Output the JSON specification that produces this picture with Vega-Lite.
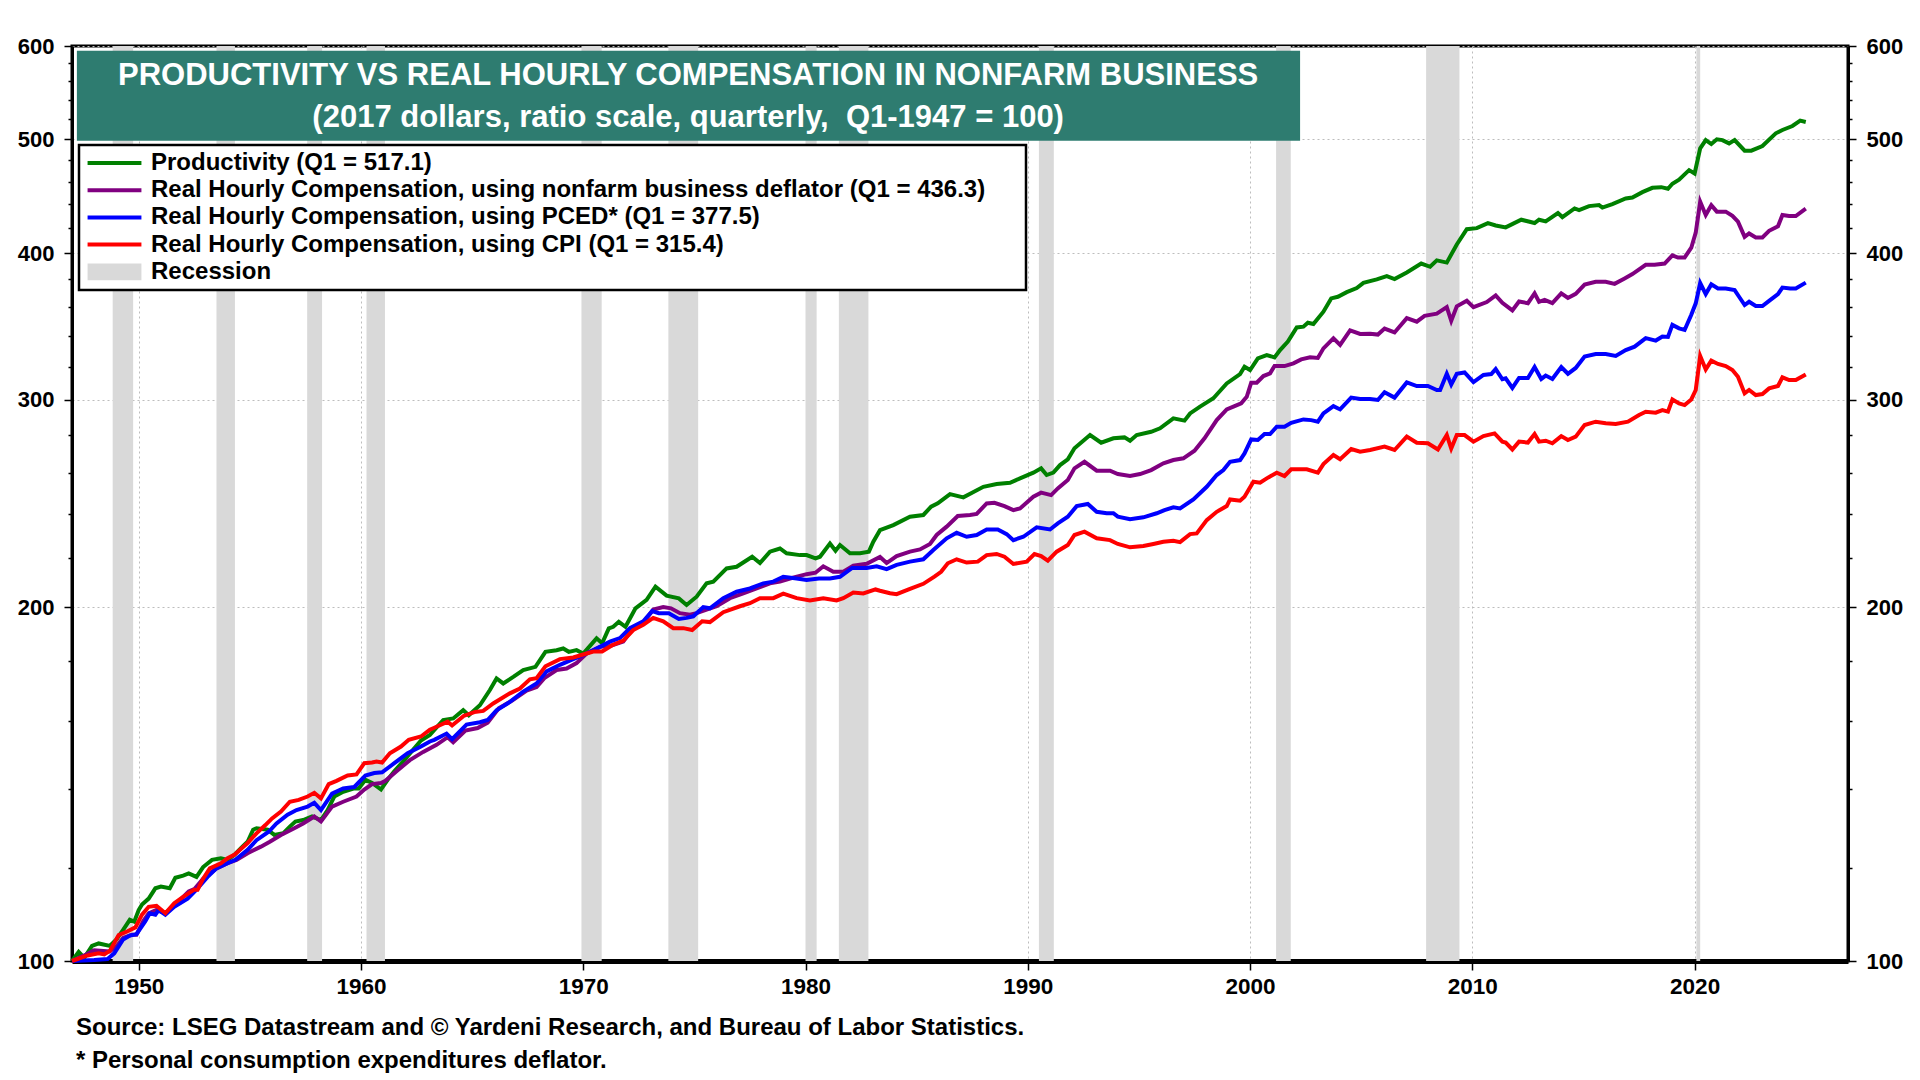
{
  "$schema": "https://vega.github.io/schema/vega-lite/v6.json",
  "description": "Productivity vs real hourly compensation in nonfarm business",
  "width": 1776,
  "height": 915,
  "autosize": {"type": "none"},
  "padding": {"left": 72, "top": 46, "right": 72, "bottom": 119},
  "background": "white",
  "config": {
    "font": "Liberation Sans",
    "view": {"stroke": "black", "strokeWidth": 3}
  },
  "title": {
    "text": ["Source: LSEG Datastream and © Yardeni Research, and Bureau of Labor Statistics.", "* Personal consumption expenditures deflator."],
    "orient": "bottom",
    "anchor": "start",
    "frame": "group",
    "offset": 18,
    "dx": 4,
    "font": "Liberation Sans",
    "fontSize": 24,
    "fontWeight": "bold",
    "color": "black",
    "lineHeight": 33
  },
  "datasets": {
    "recessions": [
      {"start": 1948.83, "end": 1949.75},
      {"start": 1953.5, "end": 1954.33},
      {"start": 1957.58, "end": 1958.25},
      {"start": 1960.25, "end": 1961.08},
      {"start": 1969.92, "end": 1970.83},
      {"start": 1973.83, "end": 1975.17},
      {"start": 1980.0, "end": 1980.5},
      {"start": 1981.5, "end": 1982.83},
      {"start": 1990.5, "end": 1991.17},
      {"start": 2001.17, "end": 2001.83},
      {"start": 2007.92, "end": 2009.42},
      {"start": 2020.08, "end": 2020.25}
    ],
    "productivity": [
      {"t":1947.0,"v":100},{"t":1947.3,"v":101.8},{"t":1947.55,"v":100.6},{"t":1947.9,"v":103},{"t":1948.2,"v":103.5},{"t":1948.7,"v":103},
      {"t":1949.0,"v":104.3},{"t":1949.3,"v":106.3},{"t":1949.6,"v":108.4},{"t":1949.8,"v":108},{"t":1950.0,"v":110.5},{"t":1950.15,"v":111.7},
      {"t":1950.45,"v":113},{"t":1950.75,"v":115.3},{"t":1951.0,"v":115.7},{"t":1951.4,"v":115.3},{"t":1951.65,"v":117.7},{"t":1952.0,"v":118.2},
      {"t":1952.25,"v":118.7},{"t":1952.6,"v":117.9},{"t":1952.9,"v":120.2},{"t":1953.3,"v":121.9},{"t":1953.7,"v":122.3},{"t":1954.0,"v":121.9},
      {"t":1954.3,"v":123.1},{"t":1954.6,"v":124.7},{"t":1954.9,"v":126.3},{"t":1955.15,"v":129.3},{"t":1955.3,"v":129.7},{"t":1955.8,"v":129.3},
      {"t":1956.1,"v":128},{"t":1956.5,"v":128.4},{"t":1956.8,"v":130.1},{"t":1957.05,"v":131.4},{"t":1957.4,"v":131.8},{"t":1957.8,"v":132.7},
      {"t":1958.2,"v":131.8},{"t":1958.5,"v":134.4},{"t":1958.8,"v":138},{"t":1959.2,"v":139.3},{"t":1959.7,"v":140.2},{"t":1959.9,"v":140.2},
      {"t":1960.2,"v":142.6},{"t":1960.5,"v":141.7},{"t":1960.9,"v":139.9},{"t":1961.2,"v":142.6},{"t":1961.5,"v":145},{"t":1961.95,"v":148.2},
      {"t":1962.4,"v":151.7},{"t":1962.7,"v":154},{"t":1963.1,"v":155.7},{"t":1963.7,"v":160.3},{"t":1964.15,"v":160.8},{"t":1964.6,"v":163.4},
      {"t":1964.85,"v":161.8},{"t":1965.35,"v":165},{"t":1965.8,"v":170},{"t":1966.1,"v":173.9},{"t":1966.4,"v":172.2},{"t":1966.87,"v":174.5},
      {"t":1967.3,"v":176.8},{"t":1967.85,"v":177.9},{"t":1968.3,"v":183.2},{"t":1968.8,"v":183.8},{"t":1969.1,"v":184.4},{"t":1969.35,"v":183.2},
      {"t":1969.7,"v":183.8},{"t":1970.0,"v":182.6},{"t":1970.6,"v":188.1},{"t":1970.85,"v":186.3},{"t":1971.15,"v":191.8},{"t":1971.35,"v":192.4},
      {"t":1971.6,"v":194.3},{"t":1971.9,"v":192.4},{"t":1972.35,"v":199.5},{"t":1972.85,"v":202.8},{"t":1973.25,"v":208.1},{"t":1973.75,"v":204.5},
      {"t":1974.3,"v":203.4},{"t":1974.65,"v":200.8},{"t":1975.1,"v":204.1},{"t":1975.55,"v":209.5},{"t":1975.85,"v":210.2},{"t":1976.45,"v":215.7},
      {"t":1976.9,"v":216.4},{"t":1977.6,"v":220.7},{"t":1977.95,"v":218},{"t":1978.4,"v":222.9},{"t":1978.85,"v":224.3},{"t":1979.15,"v":222.2},
      {"t":1979.75,"v":221.4},{"t":1980.05,"v":221.4},{"t":1980.45,"v":220},{"t":1980.65,"v":220.7},{"t":1981.1,"v":226.5},{"t":1981.35,"v":223.3},
      {"t":1981.55,"v":225.8},{"t":1982.0,"v":222.2},{"t":1982.45,"v":222.2},{"t":1982.85,"v":222.9},{"t":1983.05,"v":227.3},{"t":1983.35,"v":232.5},
      {"t":1983.95,"v":234.8},{"t":1984.7,"v":238.7},{"t":1985.3,"v":239.5},{"t":1985.65,"v":243.4},{"t":1985.95,"v":245},{"t":1986.5,"v":249.5},
      {"t":1987.1,"v":247.9},{"t":1987.45,"v":249.9},{"t":1988.0,"v":253.1},{"t":1988.6,"v":254.5},{"t":1989.2,"v":255.1},{"t":1989.65,"v":257.3},
      {"t":1990.25,"v":260.2},{"t":1990.6,"v":262.4},{"t":1990.85,"v":259},{"t":1991.15,"v":260.2},{"t":1991.45,"v":264.1},{"t":1991.8,"v":267.1},
      {"t":1992.1,"v":272.9},{"t":1992.8,"v":280.1},{"t":1993.3,"v":275.9},{"t":1993.85,"v":278.3},{"t":1994.35,"v":278.8},{"t":1994.6,"v":277},
      {"t":1994.9,"v":280.1},{"t":1995.55,"v":281.9},{"t":1995.95,"v":283.8},{"t":1996.55,"v":289.4},{"t":1997.05,"v":288.1},{"t":1997.3,"v":292.2},
      {"t":1997.75,"v":296.1},{"t":1998.35,"v":301},{"t":1998.95,"v":309.9},{"t":1999.55,"v":315.6},{"t":1999.75,"v":320.2},{"t":2000.0,"v":318.1},
      {"t":2000.35,"v":325.5},{"t":2000.75,"v":327.6},{"t":2001.1,"v":326.1},{"t":2001.35,"v":330.8},{"t":2001.7,"v":336.3},{"t":2002.1,"v":345.8},
      {"t":2002.4,"v":346.3},{"t":2002.6,"v":349},{"t":2002.85,"v":348.1},{"t":2003.3,"v":356.6},{"t":2003.65,"v":366},{"t":2003.95,"v":367.2},
      {"t":2004.35,"v":370.5},{"t":2004.8,"v":373.5},{"t":2005.1,"v":377.3},{"t":2005.7,"v":379.9},{"t":2006.15,"v":382.3},{"t":2006.5,"v":380.1},
      {"t":2007.05,"v":385.1},{"t":2007.7,"v":391.9},{"t":2008.1,"v":389.4},{"t":2008.4,"v":394.3},{"t":2008.85,"v":392.6},{"t":2009.3,"v":406.8},
      {"t":2009.75,"v":419.1},{"t":2010.2,"v":420},{"t":2010.7,"v":424.2},{"t":2011.05,"v":422.2},{"t":2011.5,"v":420.6},{"t":2012.2,"v":427},
      {"t":2012.8,"v":424.2},{"t":2013.0,"v":427},{"t":2013.3,"v":425.6},{"t":2013.85,"v":432.6},{"t":2014.05,"v":429.2},{"t":2014.6,"v":436.5},
      {"t":2014.8,"v":435.1},{"t":2015.25,"v":438.5},{"t":2015.7,"v":439.4},{"t":2015.85,"v":437.3},{"t":2016.3,"v":440.3},{"t":2016.9,"v":445.1},
      {"t":2017.2,"v":446},{"t":2017.65,"v":450.7},{"t":2018.1,"v":454.5},{"t":2018.5,"v":455.1},{"t":2018.8,"v":453.7},{"t":2019.0,"v":458.2},
      {"t":2019.3,"v":461.8},{"t":2019.75,"v":470.5},{"t":2020.0,"v":467.4},{"t":2020.25,"v":491},{"t":2020.5,"v":499.1},{"t":2020.75,"v":495.2},
      {"t":2021.0,"v":499.8},{"t":2021.25,"v":499},{"t":2021.55,"v":495.8},{"t":2021.8,"v":499.1},{"t":2022.25,"v":488.8},{"t":2022.55,"v":488.8},
      {"t":2023.05,"v":493.3},{"t":2023.65,"v":505.7},{"t":2023.95,"v":509},{"t":2024.4,"v":513},{"t":2024.75,"v":518.4},{"t":2025.0,"v":517.1}
    ],
    "nfb": [
      {"t":1947.0,"v":100},{"t":1947.5,"v":101},{"t":1948.0,"v":102.1},{"t":1948.7,"v":101.9},{"t":1949.0,"v":102.9},{"t":1949.3,"v":104.6},
      {"t":1949.7,"v":105.3},{"t":1949.9,"v":105.3},{"t":1950.2,"v":108.1},{"t":1950.45,"v":109.8},{"t":1950.8,"v":110.5},{"t":1951.2,"v":109.8},
      {"t":1951.7,"v":111.9},{"t":1952.25,"v":114.6},{"t":1952.5,"v":115.1},{"t":1952.9,"v":117.5},{"t":1953.5,"v":119.9},{"t":1954.0,"v":121.1},
      {"t":1954.4,"v":121.9},{"t":1954.9,"v":123.5},{"t":1955.5,"v":125.1},{"t":1955.9,"v":126.3},{"t":1956.4,"v":128},{"t":1957.0,"v":129.7},
      {"t":1957.4,"v":130.9},{"t":1957.9,"v":132.7},{"t":1958.2,"v":131.4},{"t":1958.7,"v":135.3},{"t":1959.2,"v":136.6},{"t":1959.8,"v":138},
      {"t":1960.15,"v":139.9},{"t":1960.5,"v":141.4},{"t":1960.9,"v":141.7},{"t":1961.1,"v":142.3},{"t":1961.6,"v":145},{"t":1962.2,"v":148.2},
      {"t":1962.8,"v":150.6},{"t":1963.4,"v":152.7},{"t":1963.9,"v":155},{"t":1964.15,"v":153.5},{"t":1964.7,"v":157},{"t":1965.25,"v":157.8},
      {"t":1965.7,"v":159.5},{"t":1966.2,"v":164},{"t":1966.8,"v":166.5},{"t":1967.45,"v":169.8},{"t":1967.9,"v":171},{"t":1968.25,"v":174},
      {"t":1968.8,"v":176.8},{"t":1969.25,"v":177.3},{"t":1969.7,"v":179.2},{"t":1970.15,"v":182.6},{"t":1970.75,"v":185},{"t":1971.2,"v":185.3},
      {"t":1971.8,"v":186.9},{"t":1972.25,"v":191.9},{"t":1972.7,"v":193.9},{"t":1973.15,"v":199},{"t":1973.6,"v":200},{"t":1973.95,"v":199.5},
      {"t":1974.35,"v":197.6},{"t":1974.8,"v":197},{"t":1975.1,"v":197.6},{"t":1975.55,"v":199},{"t":1976.0,"v":200.3},{"t":1976.6,"v":203.5},
      {"t":1977.2,"v":205.4},{"t":1977.8,"v":207.4},{"t":1978.4,"v":209.5},{"t":1978.85,"v":210.2},{"t":1979.3,"v":211.5},{"t":1980.05,"v":213.3},
      {"t":1980.45,"v":213.9},{"t":1980.8,"v":216.6},{"t":1981.25,"v":214.3},{"t":1981.7,"v":214.3},{"t":1982.15,"v":216.9},{"t":1982.75,"v":217.7},
      {"t":1983.35,"v":220.6},{"t":1983.65,"v":218},{"t":1984.1,"v":221},{"t":1984.7,"v":222.9},{"t":1985.15,"v":223.9},{"t":1985.6,"v":226.3},
      {"t":1985.9,"v":230.3},{"t":1986.35,"v":234.1},{"t":1986.85,"v":239},{"t":1987.4,"v":239.5},{"t":1987.7,"v":240},{"t":1988.15,"v":245},
      {"t":1988.5,"v":245.3},{"t":1988.95,"v":243.7},{"t":1989.35,"v":241.8},{"t":1989.65,"v":242.6},{"t":1990.25,"v":248.2},{"t":1990.6,"v":250.2},
      {"t":1991.05,"v":249},{"t":1991.35,"v":252.3},{"t":1991.8,"v":256.5},{"t":1992.1,"v":262.4},{"t":1992.55,"v":265.8},{"t":1993.1,"v":261.2},
      {"t":1993.7,"v":261.2},{"t":1994.05,"v":259.5},{"t":1994.6,"v":258.5},{"t":1995.05,"v":259.5},{"t":1995.55,"v":261.5},{"t":1996.1,"v":265},
      {"t":1996.55,"v":266.7},{"t":1997.0,"v":267.6},{"t":1997.5,"v":271.6},{"t":1997.95,"v":278.3},{"t":1998.5,"v":288.4},{"t":1998.95,"v":294.5},
      {"t":1999.25,"v":296.1},{"t":1999.6,"v":298},{"t":1999.85,"v":301.9},{"t":2000.05,"v":310.3},{"t":2000.3,"v":310.3},{"t":2000.6,"v":314.4},
      {"t":2000.9,"v":316.1},{"t":2001.1,"v":320.6},{"t":2001.55,"v":320.6},{"t":2001.95,"v":322.3},{"t":2002.3,"v":324.8},{"t":2002.7,"v":326.1},
      {"t":2003.05,"v":325.7},{"t":2003.3,"v":331.9},{"t":2003.75,"v":338.5},{"t":2004.05,"v":334.1},{"t":2004.5,"v":343.8},{"t":2004.95,"v":341.4},
      {"t":2005.4,"v":341.6},{"t":2005.75,"v":341},{"t":2006.05,"v":345},{"t":2006.5,"v":342.4},{"t":2007.05,"v":352.1},{"t":2007.5,"v":349.7},
      {"t":2007.85,"v":353.7},{"t":2008.4,"v":355.2},{"t":2008.85,"v":359.8},{"t":2009.05,"v":350.3},{"t":2009.3,"v":360.4},{"t":2009.75,"v":364.3},
      {"t":2010.05,"v":359.8},{"t":2010.65,"v":363.4},{"t":2011.05,"v":368.2},{"t":2011.35,"v":362.9},{"t":2011.8,"v":357.5},{"t":2012.1,"v":363.8},
      {"t":2012.5,"v":362.6},{"t":2012.8,"v":369.6},{"t":2013.0,"v":363.6},{"t":2013.25,"v":365},{"t":2013.6,"v":362.6},{"t":2014.0,"v":369.6},
      {"t":2014.3,"v":366.3},{"t":2014.65,"v":369.3},{"t":2015.05,"v":376.1},{"t":2015.55,"v":378.1},{"t":2016.0,"v":378.1},{"t":2016.4,"v":376.6},
      {"t":2016.85,"v":380.6},{"t":2017.2,"v":383.9},{"t":2017.8,"v":390.9},{"t":2018.2,"v":390.9},{"t":2018.65,"v":391.9},{"t":2019.0,"v":398.2},
      {"t":2019.25,"v":396.5},{"t":2019.55,"v":396.5},{"t":2019.85,"v":404.2},{"t":2020.05,"v":416.3},{"t":2020.25,"v":442.3},{"t":2020.5,"v":430.9},
      {"t":2020.75,"v":439.3},{"t":2021.0,"v":433.8},{"t":2021.4,"v":433.8},{"t":2021.7,"v":430.2},{"t":2021.95,"v":425.4},{"t":2022.25,"v":412.9},
      {"t":2022.45,"v":415.6},{"t":2022.75,"v":412.4},{"t":2023.05,"v":412.4},{"t":2023.35,"v":417.8},{"t":2023.75,"v":421.6},{"t":2023.95,"v":430.9},
      {"t":2024.25,"v":430.1},{"t":2024.55,"v":430.1},{"t":2025.0,"v":436.3}
    ],
    "pced": [
      {"t":1947.0,"v":100},{"t":1948.0,"v":100.2},{"t":1948.6,"v":100.4},{"t":1948.9,"v":101.5},{"t":1949.3,"v":104.3},{"t":1949.6,"v":105.1},
      {"t":1949.9,"v":105.4},{"t":1950.3,"v":108.1},{"t":1950.5,"v":109.8},{"t":1950.75,"v":109.5},{"t":1950.9,"v":110.5},{"t":1951.2,"v":109.5},
      {"t":1951.6,"v":111.2},{"t":1952.2,"v":113},{"t":1952.6,"v":115},{"t":1953.1,"v":117.9},{"t":1953.5,"v":119.9},{"t":1954.0,"v":121.1},
      {"t":1954.35,"v":121.9},{"t":1954.9,"v":124.3},{"t":1955.3,"v":126.7},{"t":1955.85,"v":128.8},{"t":1956.2,"v":130.9},{"t":1956.7,"v":133.2},
      {"t":1957.1,"v":134.4},{"t":1957.6,"v":135.3},{"t":1957.9,"v":136.3},{"t":1958.2,"v":134.4},{"t":1958.7,"v":138.8},{"t":1959.2,"v":140.2},
      {"t":1959.7,"v":140.6},{"t":1960.2,"v":143.8},{"t":1960.6,"v":144.5},{"t":1960.95,"v":144.7},{"t":1961.5,"v":147.3},{"t":1962.1,"v":150.2},
      {"t":1962.7,"v":152.2},{"t":1963.1,"v":153.7},{"t":1963.3,"v":154.2},{"t":1963.85,"v":156.1},{"t":1964.1,"v":154.4},{"t":1964.75,"v":158.9},
      {"t":1965.35,"v":159.6},{"t":1965.7,"v":160.3},{"t":1966.1,"v":163.4},{"t":1966.7,"v":166.1},{"t":1967.3,"v":169.5},{"t":1967.9,"v":172.2},
      {"t":1968.35,"v":176.3},{"t":1968.95,"v":178.6},{"t":1969.55,"v":180.6},{"t":1970.15,"v":182.6},{"t":1970.75,"v":185},{"t":1971.2,"v":186.9},
      {"t":1971.65,"v":188.2},{"t":1972.1,"v":191.9},{"t":1972.7,"v":194.5},{"t":1973.1,"v":198.4},{"t":1973.4,"v":197.6},{"t":1973.85,"v":197.6},
      {"t":1974.3,"v":195.4},{"t":1974.65,"v":195.8},{"t":1974.95,"v":196.4},{"t":1975.4,"v":200},{"t":1975.7,"v":199.5},{"t":1976.3,"v":203.5},
      {"t":1976.9,"v":206.1},{"t":1977.5,"v":207.4},{"t":1978.1,"v":209.5},{"t":1978.55,"v":210.2},{"t":1979.0,"v":212.2},{"t":1979.6,"v":211.5},
      {"t":1980.05,"v":210.9},{"t":1980.6,"v":211.5},{"t":1981.1,"v":211.5},{"t":1981.55,"v":212.2},{"t":1982.1,"v":215.9},{"t":1982.75,"v":215.9},
      {"t":1983.2,"v":216.6},{"t":1983.65,"v":215.4},{"t":1984.1,"v":217.2},{"t":1984.7,"v":218.6},{"t":1985.3,"v":219.6},{"t":1985.75,"v":223.6},
      {"t":1986.35,"v":228.8},{"t":1986.8,"v":231.3},{"t":1987.25,"v":229.5},{"t":1987.7,"v":230.3},{"t":1988.15,"v":232.8},{"t":1988.65,"v":232.8},
      {"t":1989.05,"v":230.7},{"t":1989.35,"v":228},{"t":1989.8,"v":229.5},{"t":1990.4,"v":233.8},{"t":1991.0,"v":232.8},{"t":1991.35,"v":235.6},
      {"t":1991.8,"v":238.7},{"t":1992.2,"v":243.7},{"t":1992.7,"v":244.7},{"t":1993.1,"v":241},{"t":1993.55,"v":240.3},{"t":1993.85,"v":240.3},
      {"t":1994.05,"v":238.7},{"t":1994.6,"v":237.5},{"t":1995.2,"v":238.4},{"t":1995.8,"v":240.3},{"t":1996.15,"v":241.8},{"t":1996.55,"v":243.1},
      {"t":1996.85,"v":242.6},{"t":1997.45,"v":246.9},{"t":1998.05,"v":253.1},{"t":1998.5,"v":259},{"t":1998.8,"v":261.5},{"t":1999.1,"v":265.8},
      {"t":1999.55,"v":266.7},{"t":1999.75,"v":270.2},{"t":2000.05,"v":277.7},{"t":2000.35,"v":277.4},{"t":2000.65,"v":280.6},{"t":2000.9,"v":280.6},
      {"t":2001.2,"v":284.7},{"t":2001.55,"v":284.7},{"t":2001.85,"v":286.9},{"t":2002.4,"v":288.8},{"t":2002.75,"v":288.4},{"t":2003.05,"v":287.5},
      {"t":2003.3,"v":292.2},{"t":2003.75,"v":296.4},{"t":2004.05,"v":294.5},{"t":2004.55,"v":301.4},{"t":2004.95,"v":300.6},{"t":2005.4,"v":300.6},
      {"t":2005.75,"v":300},{"t":2006.05,"v":304.6},{"t":2006.5,"v":301.4},{"t":2007.05,"v":310.5},{"t":2007.5,"v":308.3},{"t":2008.0,"v":308.3},
      {"t":2008.4,"v":305.9},{"t":2008.55,"v":305.9},{"t":2008.85,"v":315.8},{"t":2009.05,"v":309.2},{"t":2009.3,"v":315.8},{"t":2009.65,"v":316.6},
      {"t":2010.05,"v":310.7},{"t":2010.5,"v":315.1},{"t":2010.85,"v":315.6},{"t":2011.05,"v":318.7},{"t":2011.35,"v":312.4},{"t":2011.5,"v":313},
      {"t":2011.8,"v":307.2},{"t":2012.1,"v":313.2},{"t":2012.5,"v":313.2},{"t":2012.8,"v":320},{"t":2013.1,"v":312.6},{"t":2013.3,"v":314.7},
      {"t":2013.6,"v":312.6},{"t":2014.0,"v":320},{"t":2014.3,"v":315.8},{"t":2014.65,"v":319.4},{"t":2015.05,"v":326.6},{"t":2015.55,"v":328.2},
      {"t":2016.0,"v":328.2},{"t":2016.45,"v":327},{"t":2016.9,"v":330.8},{"t":2017.3,"v":333},{"t":2017.8,"v":338.6},{"t":2018.25,"v":337},
      {"t":2018.55,"v":339.7},{"t":2018.8,"v":339.4},{"t":2019.0,"v":347.5},{"t":2019.3,"v":345.2},{"t":2019.55,"v":344.1},{"t":2019.85,"v":354.5},
      {"t":2020.05,"v":362.5},{"t":2020.25,"v":377.2},{"t":2020.5,"v":369.1},{"t":2020.75,"v":376.2},{"t":2021.05,"v":373.2},{"t":2021.4,"v":373.2},
      {"t":2021.8,"v":372},{"t":2022.0,"v":367.2},{"t":2022.25,"v":361.3},{"t":2022.45,"v":363.6},{"t":2022.75,"v":360.6},{"t":2023.05,"v":360.6},
      {"t":2023.35,"v":364.3},{"t":2023.75,"v":369.1},{"t":2023.95,"v":373.9},{"t":2024.3,"v":373.2},{"t":2024.55,"v":373.2},{"t":2025.0,"v":377.5}
    ],
    "cpi": [
      {"t":1947.0,"v":100},{"t":1947.7,"v":101.1},{"t":1948.2,"v":101.5},{"t":1948.45,"v":101.3},{"t":1948.7,"v":102},{"t":1949.1,"v":105.2},
      {"t":1949.5,"v":106},{"t":1949.85,"v":106.8},{"t":1950.15,"v":109.5},{"t":1950.45,"v":111.2},{"t":1950.8,"v":111.4},{"t":1951.0,"v":110.6},
      {"t":1951.2,"v":109.8},{"t":1951.6,"v":112},{"t":1952.0,"v":113.4},{"t":1952.5,"v":115},{"t":1952.65,"v":115},{"t":1952.9,"v":117.5},
      {"t":1953.2,"v":119.9},{"t":1953.7,"v":121.1},{"t":1954.0,"v":122.3},{"t":1954.3,"v":123.1},{"t":1954.9,"v":126},{"t":1955.3,"v":128.4},
      {"t":1955.7,"v":130.5},{"t":1956.0,"v":132.2},{"t":1956.4,"v":134},{"t":1956.8,"v":136.6},{"t":1957.2,"v":137.1},{"t":1957.6,"v":138},
      {"t":1957.9,"v":139},{"t":1958.2,"v":137.5},{"t":1958.55,"v":141.4},{"t":1958.9,"v":142.3},{"t":1959.4,"v":143.8},{"t":1959.8,"v":144.1},
      {"t":1960.15,"v":147.3},{"t":1960.5,"v":147.5},{"t":1960.7,"v":147.8},{"t":1960.95,"v":147.5},{"t":1961.3,"v":150.2},{"t":1961.8,"v":152.2},
      {"t":1962.15,"v":154.2},{"t":1962.7,"v":155.2},{"t":1963.1,"v":157.3},{"t":1963.3,"v":157.9},{"t":1963.9,"v":159.8},{"t":1964.1,"v":158.6},
      {"t":1964.62,"v":161.6},{"t":1965.1,"v":162.8},{"t":1965.5,"v":163.2},{"t":1965.95,"v":165.6},{"t":1966.7,"v":168.9},{"t":1967.15,"v":170.5},
      {"t":1967.6,"v":173.6},{"t":1967.9,"v":174},{"t":1968.3,"v":178.1},{"t":1968.95,"v":180.6},{"t":1969.55,"v":181.2},{"t":1970.15,"v":182.6},
      {"t":1970.45,"v":183.3},{"t":1970.85,"v":183.3},{"t":1971.3,"v":185.6},{"t":1971.8,"v":187.3},{"t":1972.25,"v":191.2},{"t":1972.7,"v":193.2},
      {"t":1973.15,"v":195.8},{"t":1973.6,"v":194.5},{"t":1974.05,"v":191.9},{"t":1974.5,"v":191.9},{"t":1974.9,"v":191.2},{"t":1975.35,"v":194.5},
      {"t":1975.7,"v":194.2},{"t":1976.3,"v":198},{"t":1977.05,"v":200.3},{"t":1977.5,"v":201.5},{"t":1977.95,"v":203.5},{"t":1978.55,"v":203.5},
      {"t":1979.0,"v":205.3},{"t":1979.6,"v":203.5},{"t":1980.2,"v":202.6},{"t":1980.8,"v":203.5},{"t":1981.4,"v":202.6},{"t":1981.7,"v":203.5},
      {"t":1982.15,"v":205.8},{"t":1982.6,"v":205.4},{"t":1983.15,"v":207},{"t":1983.35,"v":206.5},{"t":1983.8,"v":205.5},{"t":1984.1,"v":205.1},
      {"t":1984.7,"v":207.2},{"t":1985.3,"v":209.3},{"t":1985.8,"v":212.3},{"t":1986.1,"v":214.3},{"t":1986.4,"v":217.9},{"t":1986.8,"v":219.6},
      {"t":1987.25,"v":218.2},{"t":1987.75,"v":218.6},{"t":1988.15,"v":221.4},{"t":1988.6,"v":221.9},{"t":1988.95,"v":220.7},{"t":1989.35,"v":217.6},
      {"t":1989.95,"v":218.6},{"t":1990.3,"v":221.9},{"t":1990.6,"v":221},{"t":1990.9,"v":219},{"t":1991.3,"v":222.9},{"t":1991.8,"v":225.8},
      {"t":1992.1,"v":230.3},{"t":1992.55,"v":231.8},{"t":1993.1,"v":228.8},{"t":1993.7,"v":228},{"t":1994.05,"v":226.3},{"t":1994.6,"v":224.8},
      {"t":1995.2,"v":225.4},{"t":1995.65,"v":226.3},{"t":1996.1,"v":227.3},{"t":1996.55,"v":227.7},{"t":1996.85,"v":227.1},{"t":1997.3,"v":230.7},
      {"t":1997.6,"v":231},{"t":1998.05,"v":237.1},{"t":1998.5,"v":241},{"t":1998.95,"v":243.7},{"t":1999.1,"v":246.9},{"t":1999.55,"v":246.3},
      {"t":1999.75,"v":248.2},{"t":2000.15,"v":255.6},{"t":2000.45,"v":255.1},{"t":2000.75,"v":257.3},{"t":2001.2,"v":260.2},{"t":2001.55,"v":258.5},
      {"t":2001.85,"v":261.9},{"t":2002.55,"v":261.9},{"t":2003.05,"v":260.2},{"t":2003.3,"v":264.6},{"t":2003.75,"v":269.3},{"t":2004.05,"v":267.1},
      {"t":2004.55,"v":272.5},{"t":2004.95,"v":271.1},{"t":2005.4,"v":272},{"t":2006.05,"v":273.8},{"t":2006.5,"v":272},{"t":2007.05,"v":279.2},
      {"t":2007.5,"v":275.9},{"t":2008.0,"v":275.6},{"t":2008.45,"v":272.3},{"t":2008.85,"v":280.1},{"t":2009.05,"v":272.8},{"t":2009.3,"v":280.1},
      {"t":2009.65,"v":280.1},{"t":2010.05,"v":276.5},{"t":2010.5,"v":279.5},{"t":2011.0,"v":281},{"t":2011.35,"v":276.5},{"t":2011.5,"v":276},
      {"t":2011.8,"v":272.3},{"t":2012.1,"v":276.5},{"t":2012.5,"v":276},{"t":2012.8,"v":280.6},{"t":2013.0,"v":276.5},{"t":2013.3,"v":277},
      {"t":2013.6,"v":275.6},{"t":2014.0,"v":279.5},{"t":2014.3,"v":277.4},{"t":2014.65,"v":279.2},{"t":2015.05,"v":285.6},{"t":2015.55,"v":287.5},
      {"t":2016.0,"v":286.6},{"t":2016.45,"v":286.2},{"t":2017.0,"v":287.5},{"t":2017.5,"v":291.3},{"t":2017.8,"v":293.2},{"t":2018.25,"v":292.6},
      {"t":2018.55,"v":294.1},{"t":2018.8,"v":293.2},{"t":2019.0,"v":300.3},{"t":2019.3,"v":298},{"t":2019.55,"v":297},{"t":2019.85,"v":300.3},
      {"t":2020.05,"v":305.9},{"t":2020.25,"v":327},{"t":2020.5,"v":318.5},{"t":2020.75,"v":324},{"t":2021.05,"v":321.9},{"t":2021.4,"v":320.6},
      {"t":2021.7,"v":318.1},{"t":2021.95,"v":314},{"t":2022.25,"v":303.9},{"t":2022.45,"v":305.9},{"t":2022.75,"v":302.9},{"t":2023.05,"v":303.5},
      {"t":2023.35,"v":306.9},{"t":2023.75,"v":308.3},{"t":2023.95,"v":313.6},{"t":2024.25,"v":311.9},{"t":2024.55,"v":311.9},{"t":2025.0,"v":315.4}
    ]
  },
  "layer": [
    {
      "data": {"name": "recessions"},
      "mark": {"type": "rect", "color": "#d9d9d9"},
      "encoding": {
        "x": {
          "field": "start",
          "type": "quantitative",
          "scale": {"domain": [1947, 2026.9], "nice": false, "zero": false},
          "axis": {
            "title": null,
            "values": [1950, 1960, 1970, 1980, 1990, 2000, 2010, 2020],
            "format": "d",
            "labelFont": "Liberation Sans",
            "labelFontSize": 22.5,
            "labelFontWeight": "bold",
            "labelColor": "black",
            "labelPadding": 5,
            "labelFlush": false,
            "tickSize": 9,
            "tickColor": "black",
            "tickWidth": 1.5,
            "domainColor": "black",
            "domainWidth": 5,
            "grid": true,
            "gridColor": "#bdbdbd",
            "gridDash": [2, 3],
            "gridWidth": 1
          }
        },
        "x2": {"field": "end"},
        "color": {"datum": "Recession"}
      }
    },
    {
      "data": {"name": "productivity"},
      "mark": {"type": "line", "strokeWidth": 4},
      "encoding": {
        "x": {"field": "t", "type": "quantitative"},
        "y": {
          "field": "v",
          "type": "quantitative",
          "scale": {"type": "log", "domain": [100, 600], "nice": false, "zero": false},
          "axis": {
            "orient": "left",
            "title": null,
            "values": [100, 120, 140, 160, 180, 200, 220, 240, 260, 280, 300, 320, 340, 360, 380, 400, 420, 440, 460, 480, 500, 520, 540, 560, 580, 600],
            "format": "d",
            "labelExpr": "datum.value % 100 === 0 ? datum.label : ''",
            "labelOverlap": false,
            "labelBound": false,
            "labelFont": "Liberation Sans",
            "labelFontSize": 22,
            "labelFontWeight": "bold",
            "labelColor": "black",
            "labelPadding": 10,
            "tickSize": {"condition": {"test": "datum.value % 100 === 0", "value": 8}, "value": 4},
            "tickColor": "black",
            "tickWidth": 1.5,
            "domainColor": "black",
            "domainWidth": 3,
            "grid": true,
            "gridColor": "#bdbdbd",
            "gridDash": [2, 3],
            "gridWidth": 1,
            "gridOpacity": {"condition": {"test": "datum.value % 100 === 0", "value": 1}, "value": 0}
          }
        },
        "color": {
          "datum": "Productivity (Q1 = 517.1)",
          "scale": {
            "domain": ["Productivity (Q1 = 517.1)", "Real Hourly Compensation, using nonfarm business deflator (Q1 = 436.3)", "Real Hourly Compensation, using PCED* (Q1 = 377.5)", "Real Hourly Compensation, using CPI (Q1 = 315.4)", "Recession"],
            "range": ["#008000", "#800080", "#0000ff", "#ff0000", "#d9d9d9"]
          },
          "legend": {
            "title": "\u00a0",
            "titleOrient": "right",
            "titlePadding": 35,
            "titleFontSize": 6,
            "orient": "none",
            "legendX": 7,
            "legendY": 99,
            "direction": "vertical",
            "padding": 6,
            "labelFont": "Liberation Sans",
            "labelFontSize": 24,
            "labelFontWeight": "bold",
            "labelColor": "black",
            "labelLimit": 1200,
            "labelOffset": 9,
            "rowPadding": 3.2,
            "symbolType": "stroke",
            "symbolSize": 2900,
            "symbolStrokeWidth": 4,
            "zindex": 3,
            "encode": {
              "legend": {"update": {"fill": {"value": "white"}, "stroke": {"value": "black"}, "strokeWidth": {"value": 2.5}}},
              "symbols": {"update": {
                "x": {"value": 29.5},
                "size": {"value": 2900},
                "shape": {"signal": "datum.label === 'Recession' ? 'M-1,-0.31H1V0.31H-1Z' : 'stroke'"},
                "fill": {"signal": "datum.label === 'Recession' ? '#d9d9d9' : 'transparent'"},
                "stroke": {"signal": "datum.label === 'Recession' ? '#d9d9d9' : scale('color', datum.value)"},
                "strokeWidth": {"signal": "datum.label === 'Recession' ? 0 : 4"},
                "opacity": {"value": 1}
              }},
              "labels": {"update": {"x": {"value": 66}}}
            }
          }
        }
      }
    },
    {
      "data": {"name": "nfb"},
      "mark": {"type": "line", "strokeWidth": 4},
      "encoding": {
        "x": {"field": "t", "type": "quantitative"},
        "y": {
          "field": "v",
          "type": "quantitative",
          "axis": {
            "orient": "right",
            "title": null,
            "values": [100, 120, 140, 160, 180, 200, 220, 240, 260, 280, 300, 320, 340, 360, 380, 400, 420, 440, 460, 480, 500, 520, 540, 560, 580, 600],
            "format": "d",
            "labelExpr": "datum.value % 100 === 0 ? datum.label : ''",
            "labelOverlap": false,
            "labelBound": false,
            "labelFont": "Liberation Sans",
            "labelFontSize": 22,
            "labelFontWeight": "bold",
            "labelColor": "black",
            "labelPadding": 10,
            "tickSize": {"condition": {"test": "datum.value % 100 === 0", "value": 8}, "value": 4},
            "tickColor": "black",
            "tickWidth": 1.5,
            "domainColor": "black",
            "domainWidth": 3,
            "grid": false
          }
        },
        "color": {"datum": "Real Hourly Compensation, using nonfarm business deflator (Q1 = 436.3)"}
      }
    },
    {
      "data": {"name": "pced"},
      "mark": {"type": "line", "strokeWidth": 4},
      "encoding": {
        "x": {"field": "t", "type": "quantitative"},
        "y": {"field": "v", "type": "quantitative", "axis": null},
        "color": {"datum": "Real Hourly Compensation, using PCED* (Q1 = 377.5)"}
      }
    },
    {
      "data": {"name": "cpi"},
      "mark": {"type": "line", "strokeWidth": 4},
      "encoding": {
        "x": {"field": "t", "type": "quantitative"},
        "y": {"field": "v", "type": "quantitative", "axis": null},
        "color": {"datum": "Real Hourly Compensation, using CPI (Q1 = 315.4)"}
      }
    },
    {
      "data": {"values": [{}]},
      "mark": {"type": "rect", "color": "#2e7c70"},
      "encoding": {
        "x": {"datum": 1947.22, "type": "quantitative"},
        "x2": {"datum": 2002.25},
        "y": {"datum": 594.5, "type": "quantitative", "axis": null},
        "y2": {"datum": 498.5}
      }
    },
    {
      "data": {"values": [{}]},
      "mark": {"type": "text", "text": "PRODUCTIVITY VS REAL HOURLY COMPENSATION IN NONFARM BUSINESS", "font": "Liberation Sans", "fontSize": 31, "fontWeight": "bold", "color": "white", "align": "center", "baseline": "alphabetic"},
      "encoding": {
        "x": {"datum": 1974.72, "type": "quantitative"},
        "y": {"datum": 555.8, "type": "quantitative", "axis": null}
      }
    },
    {
      "data": {"values": [{}]},
      "mark": {"type": "text", "text": "(2017 dollars, ratio scale, quarterly, \u00a0Q1-1947 = 100)", "font": "Liberation Sans", "fontSize": 31, "fontWeight": "bold", "color": "white", "align": "center", "baseline": "alphabetic"},
      "encoding": {
        "x": {"datum": 1974.72, "type": "quantitative"},
        "y": {"datum": 512, "type": "quantitative", "axis": null}
      }
    }
  ],
  "resolve": {"axis": {"y": "independent"}}
}
